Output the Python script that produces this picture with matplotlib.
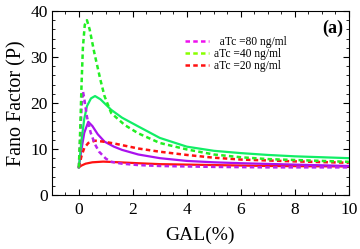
import matplotlib
matplotlib.use("Agg")
import matplotlib.pyplot as plt
from matplotlib.lines import Line2D
from matplotlib.ticker import MultipleLocator

# Data
gd_x = [0, 0.05, 0.1, 0.15, 0.22, 0.3, 0.4, 0.57, 0.8, 0.95, 1.2, 1.7, 2.2, 3, 4, 5, 6, 7, 8, 9, 10]
gd_y = [6, 14, 24, 32, 37, 38, 36, 31, 25, 21.5, 17.8, 15.2, 13.4, 11.3, 9.9, 8.8, 8.2, 7.8, 7.6, 7.4, 7.2]

gs_x = [0, 0.1, 0.2, 0.3, 0.45, 0.6, 0.8, 1.2, 1.6, 2.2, 3, 4, 5, 6, 7, 8, 9, 10]
gs_y = [6, 12, 16.5, 19.3, 21, 21.5, 20.8, 18.5, 16.8, 14.9, 12.4, 10.5, 9.6, 9.1, 8.7, 8.4, 8.2, 8.0]

md_x = [0, 0.05, 0.1, 0.15, 0.2, 0.3, 0.44, 0.6, 0.75, 1, 1.2, 1.6, 2.2, 3, 5, 7, 10]
md_y = [6, 12, 19, 22.6, 21, 17, 13.5, 11, 9.4, 7.9, 7.2, 6.8, 6.5, 6.3, 6.1, 6.0, 6.0]

ms_x = [0, 0.1, 0.2, 0.35, 0.5, 0.7, 0.95, 1.3, 1.6, 2.2, 3, 4, 5, 6, 8, 10]
ms_y = [6, 10, 13.5, 15.9, 15, 13.2, 11.6, 10.5, 9.8, 8.8, 8.0, 7.4, 7.1, 6.9, 6.6, 6.3]

rd_x = [0, 0.1, 0.2, 0.35, 0.6, 0.9, 1.3, 2.2, 3, 4, 5, 6, 8, 10]
rd_y = [6, 8.5, 10.2, 11.3, 11.8, 11.6, 11.2, 10.1, 9.4, 8.7, 8.1, 7.7, 7.3, 7.0]

rs_x = [0, 0.1, 0.25, 0.5, 0.9, 1.5, 2.2, 3, 5, 7, 10]
rs_y = [6, 6.4, 6.8, 7.1, 7.25, 7.1, 6.9, 6.7, 6.5, 6.3, 6.2]

legend_labels = ["  aTc =80 ng/ml", "aTc =40 ng/ml", "aTc =20 ng/ml"]

plt.rcParams['font.family'] = ['Liberation Serif', 'DejaVu Serif']

fig = plt.figure(figsize=(3.6, 2.49), dpi=100)
ax = fig.add_axes([0.144, 0.217, 0.825, 0.739])

dash = (0, (1.8, 1.3))
c_green_s = '#11ee66'
c_green_d = '#22ee22'
c_mag_s = '#aa11ee'
c_mag_d = '#bb22ee'
c_red = '#ff1111'

ax.plot(rs_x, rs_y, color=c_red, lw=1.6)
ax.plot(ms_x, ms_y, color=c_mag_s, lw=1.6)
ax.plot(gs_x, gs_y, color=c_green_s, lw=1.6)
ax.plot(rd_x, rd_y, color=c_red, lw=1.8, linestyle=dash)
ax.plot(md_x, md_y, color=c_mag_d, lw=1.8, linestyle=dash)
ax.plot(gd_x, gd_y, color=c_green_d, lw=1.8, linestyle=dash)

ax.set_xlim(-1, 10)
ax.set_ylim(0, 40)
ax.xaxis.set_major_locator(MultipleLocator(2))
ax.xaxis.set_minor_locator(MultipleLocator(0.5))
ax.yaxis.set_major_locator(MultipleLocator(10))
ax.yaxis.set_minor_locator(MultipleLocator(2))
ax.set_xticks([0, 2, 4, 6, 8, 10])
ax.tick_params(which='both', direction='in', top=True, right=True, labelsize=12.5)
ax.tick_params(axis='x', pad=5)
ax.tick_params(axis='y', pad=3)
ax.tick_params(which='major', length=4, width=0.8)
ax.tick_params(which='minor', length=2, width=0.6)
ax.set_xlabel("GAL(%)", fontsize=14, labelpad=6)
ax.set_ylabel("Fano Factor (P)", fontsize=14.5, labelpad=3)

handles = [Line2D([], [], color='#ee11ee', lw=1.8, linestyle=dash),
           Line2D([], [], color='#88ff00', lw=1.8, linestyle=dash),
           Line2D([], [], color='#ff1111', lw=1.8, linestyle=dash)]
ax.legend(handles, legend_labels, loc='upper left', bbox_to_anchor=(0.45, 0.865),
          frameon=False, fontsize=8.3, handlelength=2.0, handletextpad=0.5,
          labelspacing=0.0, borderpad=0.0, borderaxespad=0.0)

ax.text(0.98, 0.955, "(a)", transform=ax.transAxes, ha='right', va='top',
        fontsize=13, fontweight='bold')

fig.savefig("out.png", dpi=100)
